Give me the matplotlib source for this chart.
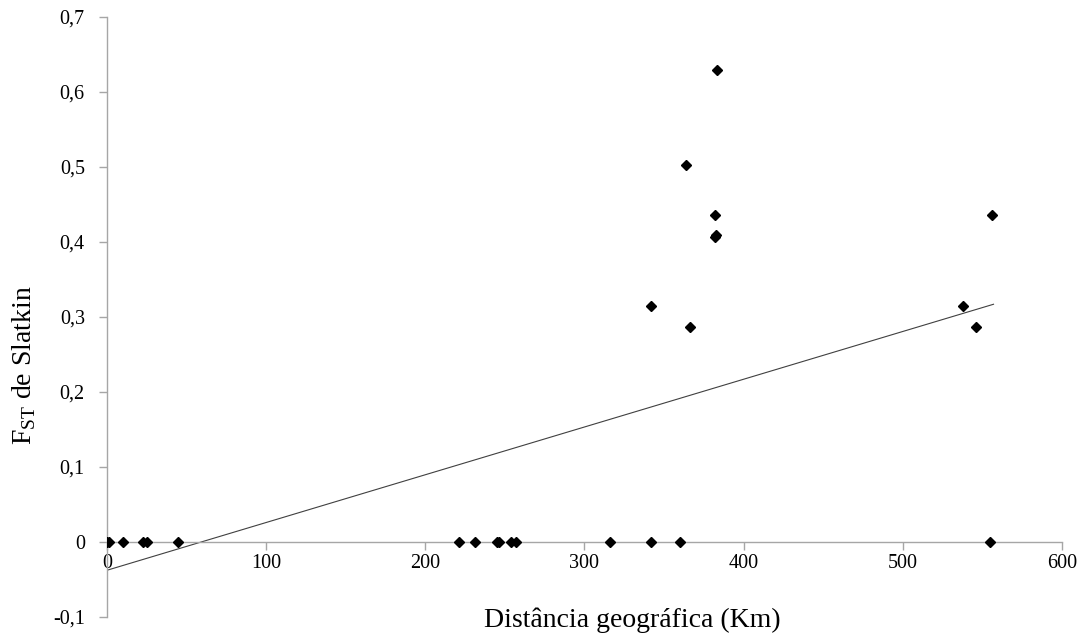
import numpy as np
import matplotlib.pyplot as plt

# Distancia geografica (Km) e FST de Slatkin entre pares de populacoes
distancia = [0, 1.3, 10, 22.6, 25.1, 44.6, 221, 231, 245, 246, 254, 257,
             316, 342, 360, 555,
             383, 364, 382, 382, 382.5, 342, 366, 538, 546, 556]
fst = [0, 0, 0, 0, 0, 0, 0, 0, 0, 0, 0, 0,
       0, 0, 0, 0,
       0.629, 0.502, 0.436, 0.406, 0.409, 0.315, 0.287, 0.315, 0.286, 0.436]

# linha de tendencia como aparece no grafico (y = a*x + b)
tend_a = 0.000637
tend_b = -0.038
tend_x = [0, 557]

yticks = [-0.1, 0, 0.1, 0.2, 0.3, 0.4, 0.5, 0.6, 0.7]
xticks = [0, 100, 200, 300, 400, 500, 600]

plt.rcParams["font.family"] = ["Liberation Serif", "DejaVu Serif"]

fig = plt.figure(figsize=(10.79, 6.36), dpi=100)
ax = fig.add_axes([0.0992, 0.0303, 0.885, 0.943])

tend_y = np.polyval([tend_a, tend_b], tend_x)
ax.plot(tend_x, tend_y, color="#404040", linewidth=0.8, zorder=2)
ax.plot(distancia, fst, linestyle="none", marker="D", markersize=5.5,
        color="black", zorder=3)

ax.set_xlim(0, 600)
ax.set_ylim(-0.1, 0.7)
ax.set_xticks(xticks)
ax.set_yticks(yticks)
ax.set_yticklabels([("%g" % v).replace(".", ",") for v in yticks])

for lado in ["top", "right"]:
    ax.spines[lado].set_visible(False)
ax.spines["bottom"].set_position(("data", 0))
for lado in ["left", "bottom"]:
    ax.spines[lado].set_color("#a6a6a6")
    ax.spines[lado].set_linewidth(1.0)
ax.tick_params(axis="both", colors="#a6a6a6", labelcolor="black",
               labelsize=14.5, length=6, width=1.0, direction="out")
ax.tick_params(axis="x", pad=3)
ax.tick_params(axis="y", pad=10)

ax.set_xlabel("Distância geográfica (Km)", fontsize=20)
ax.xaxis.set_label_coords(0.55, 0.016)
ax.set_ylabel(r"F$_{\mathregular{ST}}$ de Slatkin", fontsize=20)
ax.yaxis.set_label_coords(-0.072, 0.42)

fig.savefig("out.png", dpi=100)
